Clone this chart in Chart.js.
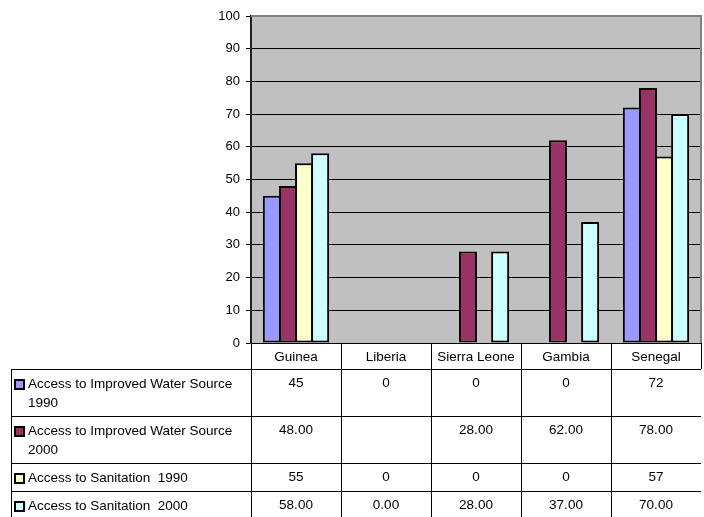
<!DOCTYPE html>
<html>
<head>
<meta charset="utf-8">
<script src="https://cdn.jsdelivr.net/npm/chart.js@4/dist/chart.umd.min.js"></script>
<style>
  html, body { margin: 0; padding: 0; background: #fff; }
  canvas { display: block; }
</style>
</head>
<body>
<canvas id="accessChart" width="704" height="517"></canvas>
<script>
// data
var categories = ['Guinea', 'Liberia', 'Sierra Leone', 'Gambia', 'Senegal'];
var water1990 = [45, 0, 0, 0, 72];
var water2000 = [48, null, 28, 62, 78];
var sanitation1990 = [55, 0, 0, 0, 57];
var sanitation2000 = [58, 0, 28, 37, 70];
var seriesNames = [
    'Access to Improved Water Source 1990',
    'Access to Improved Water Source 2000',
    'Access to Sanitation  1990',
    'Access to Sanitation  2000'
];
var seriesDecimals = [0, 2, 0, 2];
var seriesColors = ['#9999FF', '#993366', '#FFFFCC', '#CCFFFF'];
var yMin = 0, yMax = 100, yStep = 10;

var FONT = '"Liberation Sans", Arial, sans-serif';
Chart.defaults.font.family = FONT;
Chart.defaults.font.size = 13;
Chart.defaults.color = '#000';

// grey plot area + the data table under the chart
var tablePlugin = {
    id: 'dataTable',
    beforeDraw: function (chart) {
        var a = chart.chartArea, c = chart.ctx;
        c.save();
        c.fillStyle = '#C0C0C0';
        c.fillRect(a.left, a.top, a.right - a.left, a.bottom - a.top);
        c.restore();
    },
    afterDraw: function (chart) {
        var a = chart.chartArea, c = chart.ctx, x = chart.scales.x;
        c.save();
        // plot border top/right
        c.strokeStyle = '#808080';
        c.lineWidth = 2;
        c.beginPath();
        c.moveTo(a.left, a.top);
        c.lineTo(a.right, a.top);
        c.lineTo(a.right, a.bottom);
        c.stroke();

        var tableLeft = 11;
        var top = x.bottom;
        var half = (x.getPixelForValue(1) - x.getPixelForValue(0)) / 2;
        c.font = '13.5px ' + FONT;
        c.textBaseline = 'middle';
        c.strokeStyle = '#000';
        c.lineWidth = 1;
        var rows = [water1990, water2000, sanitation1990, sanitation2000];

        rows.forEach(function (values, i) {
            // wrap the series name inside the label column
            var words = seriesNames[i].split(' ');
            var lines = [], line = '';
            words.forEach(function (w) {
                var t = line === '' ? w : line + ' ' + w;
                if (c.measureText(t).width > 215 && line !== '') {
                    lines.push(line.trim());
                    line = w;
                } else {
                    line = t;
                }
            });
            lines.push(line.trim());
            var h = 9 + lines.length * 19;

            // borders
            c.beginPath();
            c.moveTo(tableLeft, Math.round(top) + 0.5);
            c.lineTo(a.right, Math.round(top) + 0.5);
            c.moveTo(tableLeft, Math.round(top + h) + 0.5);
            c.lineTo(a.right, Math.round(top + h) + 0.5);
            c.moveTo(tableLeft + 0.5, top);
            c.lineTo(tableLeft + 0.5, top + h);
            for (var j = 0; j < categories.length; j++) {
                var bx = Math.round(x.getPixelForValue(j) - half) + 0.5;
                c.moveTo(bx, top);
                c.lineTo(bx, top + h);
            }
            c.stroke();

            // legend key
            c.fillStyle = '#000';
            c.fillRect(14, top + 10, 11, 11);
            c.fillStyle = seriesColors[i];
            c.fillRect(16, top + 12, 7, 7);

            // label text
            c.fillStyle = '#000';
            c.textAlign = 'left';
            lines.forEach(function (l, k) {
                c.fillText(l, 28, top + 15 + k * 19);
            });

            // values
            c.textAlign = 'center';
            values.forEach(function (v, j) {
                if (v === null) return;
                c.fillText(v.toFixed(seriesDecimals[i]), x.getPixelForValue(j), top + 14);
            });
            top += h;
        });
        c.restore();
    }
};

var ctx = document.getElementById('accessChart').getContext('2d');
var barStyle = {
    borderColor: '#000',
    borderWidth: function (c) { return c.raw ? 2 : 0; },
    borderSkipped: false,
    barPercentage: 1.12,
    categoryPercentage: 0.715
};
new Chart(ctx, {
    type: 'bar',
    data: {
        labels: categories,
        datasets: [
            Object.assign({ label: seriesNames[0], data: water1990, backgroundColor: seriesColors[0] }, barStyle),
            Object.assign({ label: seriesNames[1], data: water2000, backgroundColor: seriesColors[1] }, barStyle),
            Object.assign({ label: seriesNames[2], data: sanitation1990, backgroundColor: seriesColors[2] }, barStyle),
            Object.assign({ label: seriesNames[3], data: sanitation2000, backgroundColor: seriesColors[3] }, barStyle)
        ]
    },
    options: {
        responsive: false,
        animation: false,
        layout: { padding: { left: 0, top: 16, right: 3, bottom: 148 } },
        plugins: { legend: { display: false }, tooltip: { enabled: false } },
        scales: {
            x: {
                afterFit: function (s) { s.height = 26; },
                border: { color: '#000', width: 1 },
                grid: { drawOnChartArea: false, tickLength: 26, color: '#000', offset: true },
                ticks: { padding: -20, color: '#000', font: { size: 13.5 } }
            },
            y: {
                min: yMin,
                max: yMax,
                afterFit: function (s) { s.width = 251; },
                border: { color: '#222', width: 2 },
                grid: { color: '#000', tickLength: 5 },
                ticks: { stepSize: yStep, padding: 6, color: '#000', font: { size: 13 } }
            }
        }
    },
    plugins: [tablePlugin]
});
</script>
</body>
</html>
